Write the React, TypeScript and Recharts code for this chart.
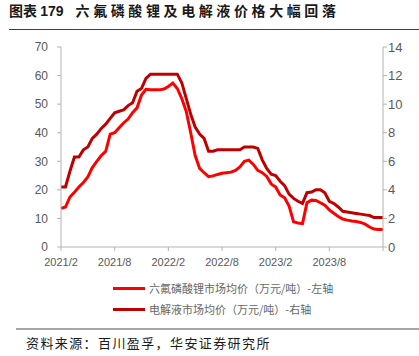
import React from "react";
import { LineChart, Line, XAxis, YAxis } from "recharts";

// half-month samples
const dates = [
  "2021-02-01", "2021-02-16", "2021-03-01", "2021-03-16", "2021-04-01", "2021-04-16",
  "2021-05-01", "2021-05-16", "2021-06-01", "2021-06-16", "2021-07-01", "2021-07-16",
  "2021-08-01", "2021-08-16", "2021-09-01", "2021-09-16", "2021-10-01", "2021-10-16",
  "2021-11-01", "2021-11-16", "2021-12-01", "2021-12-16",
  "2022-01-01", "2022-01-16", "2022-02-01", "2022-02-16", "2022-03-01", "2022-03-16",
  "2022-04-01", "2022-04-16", "2022-05-01", "2022-05-16", "2022-06-01", "2022-06-16",
  "2022-07-01", "2022-07-16", "2022-08-01", "2022-08-16", "2022-09-01", "2022-09-16",
  "2022-10-01", "2022-10-16", "2022-11-01", "2022-11-16", "2022-12-01", "2022-12-16",
  "2023-01-01", "2023-01-16", "2023-02-01", "2023-02-16", "2023-03-01", "2023-03-16",
  "2023-04-01", "2023-04-16", "2023-05-01", "2023-05-16", "2023-06-01", "2023-06-16",
  "2023-07-01", "2023-07-16", "2023-08-01", "2023-08-16", "2023-09-01", "2023-09-16",
  "2023-10-01", "2023-10-16", "2023-11-01", "2023-11-16", "2023-12-01", "2023-12-16",
  "2024-01-01", "2024-01-16", "2024-02-01",
];

// 六氟磷酸锂市场均价 (万元/吨), left axis
const lipf6 = [
  13.5, 14.0, 17.5, 19.2, 21.0, 22.6, 24.5, 27.8, 30.0, 32.0, 33.5, 39.5,
  40.0, 41.7, 43.4, 44.8, 47.0, 48.7, 53.2, 55.2, 55.0, 55.0,
  55.0, 55.3, 56.2, 57.4, 55.5, 52.0, 47.5, 40.0, 32.0, 27.5, 26.0, 24.6,
  24.9, 25.4, 25.8, 26.0, 26.2, 26.8, 28.0, 30.0, 30.4, 28.9, 26.8, 26.0,
  24.7, 22.1, 21.0, 18.2, 17.2, 14.3, 8.8, 8.4, 8.2, 15.5, 16.4, 16.3,
  15.5, 14.6, 13.0, 11.8, 10.7, 9.8, 9.4, 9.1, 8.9, 8.6, 8.0, 7.0,
  6.3, 6.1, 6.1,
];

// 电解液市场均价 (万元/吨), right axis
const electrolyte = [
  4.2, 4.2, 5.3, 6.3, 6.3, 6.8, 7.0, 7.6, 7.9, 8.3, 8.6, 9.0,
  9.4, 9.5, 9.6, 9.9, 10.1, 10.9, 11.1, 11.8, 12.1, 12.1,
  12.1, 12.1, 12.1, 12.1, 12.1, 11.5, 10.4, 9.3, 8.4, 7.9, 7.6, 6.7,
  6.7, 6.8, 6.8, 6.8, 6.8, 6.8, 6.8, 7.0, 7.0, 7.0, 6.9, 6.1,
  5.5, 5.1, 5.0, 4.6, 4.3, 3.7, 3.4, 3.2, 3.05, 3.8, 3.85, 4.0,
  4.0, 3.8, 3.2, 3.05, 2.8, 2.5, 2.45, 2.4, 2.35, 2.3, 2.25, 2.2,
  2.06, 2.06, 2.06,
];

const tickLabels = ["2021/2", "2021/8", "2022/2", "2022/8", "2023/2", "2023/8"];
const leftTicks = [0, 10, 20, 30, 40, 50, 60, 70];
const rightTicks = [0, 2, 4, 6, 8, 10, 12, 14];

const seriesNames = ["六氟磷酸锂市场均价（万元/吨）-左轴", "电解液市场均价（万元/吨）-右轴"];
const colors = ["#ff0000", "#c00000"];

// months since 2021/2
const toMonth = (d: string) => {
  const [y, m, day] = d.split("-").map(Number);
  return (y - 2021) * 12 + (m - 2) + (day - 1) / 30;
};

const data = dates.map((d, i) => ({
  t: toMonth(d),
  lipf6: lipf6[i],
  electrolyte: electrolyte[i],
}));

const cjk = '"Noto Sans CJK SC", "Noto Sans", sans-serif';
const axisFont = '"Liberation Sans", Arial, sans-serif';

export default function App() {
  return (
    <div
      style={{
        position: "absolute",
        left: 0,
        top: 0,
        width: 419,
        height: 356,
        background: "#fff",
        fontFamily: cjk,
        overflow: "hidden",
      }}
    >
      {/* title */}
      <div
        style={{
          position: "absolute",
          left: 9,
          top: 0,
          fontSize: 14,
          fontWeight: 700,
          color: "#1a1a1a",
          whiteSpace: "nowrap",
          lineHeight: "20px",
        }}
      >
        <span>图表 </span>
        <span style={{ fontFamily: axisFont }}>179</span>
        <span style={{ marginLeft: 12, letterSpacing: 3.6 }}>六氟磷酸锂及电解液价格大幅回落</span>
      </div>
      <div
        style={{
          position: "absolute",
          left: 9,
          top: 29,
          width: 410,
          height: 1,
          background: "#404040",
        }}
      />

      <div style={{ position: "absolute", left: 0, top: 0 }}>
        <LineChart
          width={419}
          height={270}
          data={data}
          margin={{ top: 47, right: 0, left: 0, bottom: 0 }}
        >
          <XAxis
            type="number"
            dataKey="t"
            domain={[0, 36]}
            ticks={[0, 6, 12, 18, 24, 30, 36]}
            interval={0}
            tickFormatter={(v: number) => tickLabels[v / 6] ?? ""}
            stroke="#b3b3b3"
            tick={{ fill: "#595959", fontSize: 11, fontFamily: axisFont }}
            tickSize={4}
            tickMargin={7}
            height={23}
          />
          <YAxis
            yAxisId="left"
            domain={[0, 70]}
            ticks={leftTicks}
            interval={0}
            stroke="#b3b3b3"
            tick={{ fill: "#595959", fontSize: 12, fontFamily: axisFont }}
            tickSize={4}
            tickMargin={9}
            width={61}
          />
          <YAxis
            yAxisId="right"
            orientation="right"
            domain={[0, 14]}
            ticks={rightTicks}
            interval={0}
            stroke="#b3b3b3"
            tick={{ fill: "#595959", fontSize: 13, fontFamily: axisFont }}
            tickSize={4}
            tickMargin={1}
            width={36}
          />
          <Line
            yAxisId="left"
            type="linear"
            dataKey="lipf6"
            stroke={colors[0]}
            strokeWidth={3}
            dot={false}
            isAnimationActive={false}
          />
          <Line
            yAxisId="right"
            type="linear"
            dataKey="electrolyte"
            stroke={colors[1]}
            strokeWidth={3}
            dot={false}
            isAnimationActive={false}
          />
        </LineChart>
      </div>

      {/* legend */}
      {seriesNames.map((name, i) => (
        <div
          key={name}
          style={{
            position: "absolute",
            left: 113,
            top: 280 + i * 21,
            height: 16,
            display: "flex",
            alignItems: "center",
            whiteSpace: "nowrap",
          }}
        >
          <div style={{ width: 32, height: 3, background: colors[i], marginRight: 4 }} />
          <span style={{ fontSize: 11, color: "#666666" }}>{name}</span>
        </div>
      ))}

      {/* source */}
      <div
        style={{
          position: "absolute",
          left: 16,
          top: 328,
          width: 403,
          height: 2,
          background: "#a6a6a6",
        }}
      />
      <div
        style={{
          position: "absolute",
          left: 26,
          top: 334,
          fontSize: 13,
          letterSpacing: 1.4,
          color: "#1a1a1a",
          whiteSpace: "nowrap",
          lineHeight: "18px",
        }}
      >
        资料来源：百川盈孚，华安证券研究所
      </div>
    </div>
  );
}
